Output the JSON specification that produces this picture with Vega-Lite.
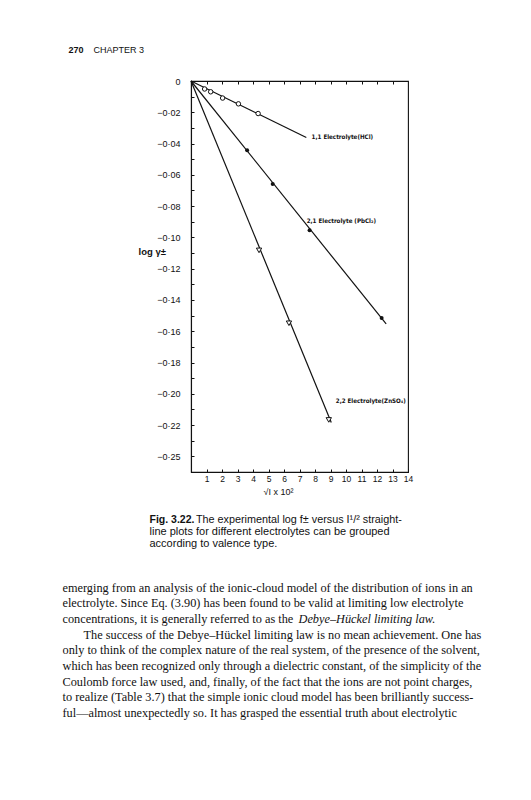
{
  "$schema": "https://vega.github.io/schema/vega-lite/v6.json",
  "width": 217,
  "height": 391,
  "autosize": {"type": "none"},
  "padding": {"left": 191, "top": 81, "right": 123, "bottom": 328},
  "background": "white",
  "config": {
    "view": {"stroke": "#111", "strokeWidth": 1.1},
    "axis": {"grid": false, "titleLimit": 1000, "labelLimit": 1000, "labelOverlap": false, "labelFlush": false, "titleColor": "#111", "labelColor": "#111", "tickColor": "#111", "domainColor": "#111", "domainWidth": 1.1, "titleFont": "Liberation Sans", "labelFont": "Liberation Sans"}
  },
  "resolve": {"axis": {"x": "independent", "y": "independent"}},
  "datasets": {
    "lines": [
      {"series": "HCl", "x": 0, "y": 0},
      {"series": "HCl", "x": 7.44, "y": -0.0361},
      {"series": "PbCl2", "x": 0, "y": 0},
      {"series": "PbCl2", "x": 12.59, "y": -0.1553},
      {"series": "ZnSO4", "x": 0, "y": 0},
      {"series": "ZnSO4", "x": 9.05, "y": -0.2184}
    ],
    "points": [
      {"series": "HCl", "x": 0.88, "y": -0.0051},
      {"series": "HCl", "x": 1.27, "y": -0.0069},
      {"series": "HCl", "x": 2.04, "y": -0.0109},
      {"series": "HCl", "x": 3.06, "y": -0.0146},
      {"series": "HCl", "x": 4.33, "y": -0.0208},
      {"series": "PbCl2", "x": 3.62, "y": -0.0442},
      {"series": "PbCl2", "x": 5.27, "y": -0.0658},
      {"series": "PbCl2", "x": 7.65, "y": -0.0955},
      {"series": "PbCl2", "x": 12.3, "y": -0.1515},
      {"series": "ZnSO4", "x": 4.39, "y": -0.1083},
      {"series": "ZnSO4", "x": 6.32, "y": -0.1549},
      {"series": "ZnSO4", "x": 8.89, "y": -0.2167}
    ],
    "labels": [
      {"series": "HCl", "x": 7.78, "y": -0.0361, "text": "1,1 Electrolyte(HCl)"},
      {"series": "PbCl2", "x": 7.46, "y": -0.0896, "text": "2,1 Electrolyte (PbCl₂)"},
      {"series": "ZnSO4", "x": 9.34, "y": -0.2045, "text": "2,2 Electrolyte(ZnSO₄)"}
    ]
  },
  "layer": [
    {
      "data": {"name": "lines"},
      "transform": [{"filter": "datum.series == 'HCl'"}],
      "mark": {"type": "line", "color": "#111", "strokeWidth": 1.2},
      "encoding": {
        "x": {"field": "x", "type": "quantitative", "scale": {"domain": [0, 14], "nice": false, "zero": false},
          "axis": {"orient": "bottom", "values": [1,2,3,4,5,6,7,8,9,10,11,12,13,14], "tickSize": -3, "labelPadding": 5, "labelBaseline": "top", "labelFontSize": 8.5, "title": "√I x 10²", "titleX": 87, "titleY": 19, "titleAlign": "center", "titleBaseline": "middle", "titleFontSize": 9, "titleFontWeight": "normal"}},
        "y": {"field": "y", "type": "quantitative", "scale": {"domain": [-0.25, 0], "nice": false, "zero": false},
          "axis": {"orient": "left", "values": [0,-0.01,-0.02,-0.03,-0.04,-0.05,-0.06,-0.07,-0.08,-0.09,-0.1,-0.11,-0.12,-0.13,-0.14,-0.15,-0.16,-0.17,-0.18,-0.19,-0.2,-0.21,-0.22,-0.23,-0.24],
            "tickSize": -3, "labelPadding": 14, "labelFontSize": 9,
            "labelExpr": "datum.value == 0 ? '0' : (round(datum.value*100) % 2 != 0 ? '' : (round(datum.value*100) == -24 ? '−0·25' : '−0·' + format(-round(datum.value*100), '02d')))",
            "title": "log γ±", "titleAngle": 0, "titleX": -53, "titleY": 170, "titleAlign": "left", "titleBaseline": "middle", "titleFontSize": 9.5, "titleFontWeight": "bold"}}
      }
    },
    {
      "data": {"name": "lines"},
      "transform": [{"filter": "datum.series == 'PbCl2'"}],
      "mark": {"type": "line", "color": "#111", "strokeWidth": 1.2},
      "encoding": {
        "x": {"field": "x", "type": "quantitative", "scale": {"domain": [0, 14], "nice": false, "zero": false},
          "axis": {"orient": "bottom", "domain": false, "ticks": false, "labels": false,
            "title": [
              "only to think of the complex nature of the real system, of the presence of the solvent,",
              "which has been recognized only through a dielectric constant, of the simplicity of the",
              "Coulomb force law used, and, finally, of the fact that the ions are not point charges,",
              "to realize (Table 3.7) that the simple ionic cloud model has been brilliantly success-",
              "ful—almost unexpectedly so. It has grasped the essential truth about electrolytic"
            ],
            "titleX": -129, "titleY": 181.7, "titleAlign": "left", "titleBaseline": "alphabetic", "titleFont": "Liberation Serif", "titleFontSize": 12.3, "titleFontWeight": "normal", "titleLineHeight": 15.67}},
        "y": {"field": "y", "type": "quantitative", "scale": {"domain": [-0.25, 0], "nice": false, "zero": false}, "axis": null}
      }
    },
    {
      "data": {"name": "lines"},
      "transform": [{"filter": "datum.series == 'ZnSO4'"}],
      "mark": {"type": "line", "color": "#111", "strokeWidth": 1.2},
      "encoding": {
        "x": {"field": "x", "type": "quantitative", "scale": {"domain": [0, 14], "nice": false, "zero": false}, "axis": null},
        "y": {"field": "y", "type": "quantitative", "scale": {"domain": [-0.25, 0], "nice": false, "zero": false}, "axis": null}
      }
    },
    {
      "data": {"name": "points"},
      "transform": [{"filter": "datum.series == 'HCl'"}],
      "mark": {"type": "point", "shape": "circle", "filled": false, "stroke": "#111", "fill": "white", "strokeWidth": 1, "size": 20, "opacity": 1},
      "encoding": {
        "x": {"field": "x", "type": "quantitative", "scale": {"domain": [0, 14], "nice": false, "zero": false},
          "axis": {"orient": "top", "values": [1,2,3,4,5,6,7,8,9,10,11,12,13], "tickSize": -3, "labels": false, "domain": false, "title": "CHAPTER 3", "titleX": -98, "titleY": -29, "titleAlign": "left", "titleBaseline": "alphabetic", "titleFontSize": 9, "titleFontWeight": "normal"}},
        "y": {"field": "y", "type": "quantitative", "scale": {"domain": [-0.25, 0], "nice": false, "zero": false},
          "axis": {"orient": "left", "domain": false, "ticks": false, "labels": false, "title": "270", "titleAngle": 0, "titleX": -123, "titleY": -29, "titleAlign": "left", "titleBaseline": "alphabetic", "titleFontSize": 9, "titleFontWeight": "bold"}}
      }
    },
    {
      "data": {"name": "points"},
      "transform": [{"filter": "datum.series == 'PbCl2'"}],
      "mark": {"type": "point", "shape": "circle", "filled": true, "color": "#111", "size": 16, "opacity": 1},
      "encoding": {
        "x": {"field": "x", "type": "quantitative", "scale": {"domain": [0, 14], "nice": false, "zero": false},
          "axis": {"orient": "bottom", "domain": false, "ticks": false, "labels": false, "title": "Fig. 3.22.", "titleX": -42, "titleY": 50, "titleAlign": "left", "titleBaseline": "alphabetic", "titleFontSize": 10.5, "titleFontWeight": "bold"}},
        "y": {"field": "y", "type": "quantitative", "scale": {"domain": [-0.25, 0], "nice": false, "zero": false},
          "axis": {"orient": "left", "domain": false, "ticks": false, "labels": false, "title": "The experimental log f± versus I¹/² straight-", "titleAngle": 0, "titleX": 4.5, "titleY": 441, "titleAlign": "left", "titleBaseline": "alphabetic", "titleFontSize": 10.8, "titleFontWeight": "normal"}}
      }
    },
    {
      "data": {"name": "points"},
      "transform": [{"filter": "datum.series == 'ZnSO4'"}],
      "mark": {"type": "point", "shape": "triangle-down", "filled": false, "stroke": "#111", "fill": "white", "strokeWidth": 1, "size": 28, "opacity": 1},
      "encoding": {
        "x": {"field": "x", "type": "quantitative", "scale": {"domain": [0, 14], "nice": false, "zero": false},
          "axis": {"orient": "bottom", "domain": false, "ticks": false, "labels": false, "title": ["line plots for different electrolytes can be grouped", "according to valence type."], "titleX": -42, "titleY": 62, "titleAlign": "left", "titleBaseline": "alphabetic", "titleFontSize": 11, "titleFontWeight": "normal", "titleLineHeight": 12.2}},
        "y": {"field": "y", "type": "quantitative", "scale": {"domain": [-0.25, 0], "nice": false, "zero": false},
          "axis": {"orient": "left", "domain": false, "ticks": false, "labels": false, "title": "Debye–Hückel limiting law.", "titleAngle": 0, "titleX": 107, "titleY": 541, "titleAlign": "left", "titleBaseline": "alphabetic", "titleFont": "Liberation Serif", "titleFontSize": 12.3, "titleFontStyle": "italic", "titleFontWeight": "normal"}}
      }
    },
    {
      "data": {"name": "labels"},
      "mark": {"type": "text", "align": "left", "baseline": "middle", "font": "DejaVu Sans Condensed, DejaVu Sans", "fontSize": 6.2, "fontWeight": "bold", "color": "#111"},
      "encoding": {
        "x": {"field": "x", "type": "quantitative", "scale": {"domain": [0, 14], "nice": false, "zero": false},
          "axis": {"orient": "bottom", "domain": false, "ticks": false, "labels": false,
            "title": [
              "emerging from an analysis of the ionic-cloud model of the distribution of ions in an",
              "electrolyte. Since Eq. (3.90) has been found to be valid at limiting low electrolyte",
              "concentrations, it is generally referred to as the"
            ],
            "titleX": -129, "titleY": 119, "titleAlign": "left", "titleBaseline": "alphabetic", "titleFont": "Liberation Serif", "titleFontSize": 12.3, "titleFontWeight": "normal", "titleLineHeight": 15.67}},
        "y": {"field": "y", "type": "quantitative", "scale": {"domain": [-0.25, 0], "nice": false, "zero": false},
          "axis": {"orient": "left", "domain": false, "ticks": false, "labels": false, "title": "The success of the Debye–Hückel limiting law is no mean achievement. One has", "titleAngle": 0, "titleX": -108, "titleY": 557, "titleAlign": "left", "titleBaseline": "alphabetic", "titleFont": "Liberation Serif", "titleFontSize": 12.3, "titleFontWeight": "normal"}},
        "text": {"field": "text", "type": "nominal"}
      }
    }
  ]
}
